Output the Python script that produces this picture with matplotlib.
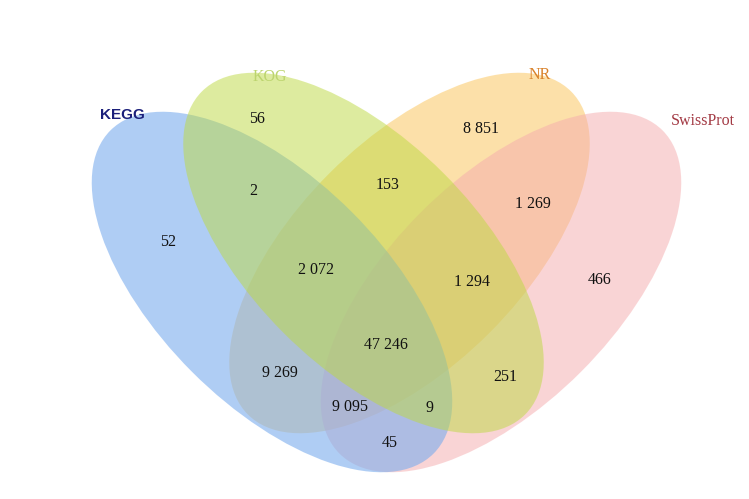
import matplotlib
matplotlib.use("Agg")
import matplotlib.pyplot as plt
from matplotlib.patches import Ellipse

# ---- data ----
set_names = ["KEGG", "KOG", "NR", "SwissProt"]
region_keys = ["KOG", "NR", "KEGG&KOG", "KOG&NR", "NR&SwissProt", "KEGG",
               "KEGG&KOG&NR", "KOG&NR&SwissProt", "SwissProt", "ALL",
               "KEGG&NR", "KOG&SwissProt", "KEGG&NR&SwissProt",
               "KEGG&KOG&SwissProt", "KEGG&SwissProt"]
region_counts = ["56", "8 851", "2", "153", "1 269", "52",
                 "2 072", "1 294", "466", "47 246",
                 "9 269", "251", "9 095", "9", "45"]

# ---- layout / style ----
W, H = 749, 499
fig = plt.figure(figsize=(W / 100, H / 100), dpi=100)
ax = fig.add_axes([0, 0, 1, 1])
ax.set_xlim(0, W)
ax.set_ylim(H, 0)
ax.axis("off")

# per set: colour, alpha, centre, angle ; drawn in z-order NR, SwissProt, KEGG, KOG
set_colors = {"KEGG": "#7badee", "KOG": "#bdd941", "NR": "#fbc355", "SwissProt": "#f5abad"}
set_alpha = {"KEGG": 0.6, "KOG": 0.5, "NR": 0.5, "SwissProt": 0.5}
centers = {"KEGG": (272, 292), "KOG": (363.5, 253), "NR": (409.5, 253), "SwissProt": (501, 292)}
angles = {"KEGG": 45, "KOG": 45, "NR": -45, "SwissProt": -45}
draw_order = ["NR", "SwissProt", "KEGG", "KOG"]
a_axis, b_axis = 457, 226

for k in draw_order:
    ax.add_patch(Ellipse(centers[k], a_axis, b_axis, angle=angles[k],
                         facecolor=set_colors[k], edgecolor="none",
                         alpha=set_alpha[k]))

label_pos = [(257, 119), (481, 129), (253, 191), (388, 185), (533, 204),
             (168, 242), (316, 270), (472, 282), (600, 280), (386, 345),
             (280, 373), (505, 377), (350, 407), (430, 408), (390, 443)]
for (x, y), txt in zip(label_pos, region_counts):
    ax.text(x, y, txt, ha="center", va="center", fontsize=11.5,
            family="Liberation Serif", color="#111111")

name_pos = [(122, 115), (270, 77), (540, 75), (703, 121)]
name_colors = ["#1b1f7a", "#bcd46e", "#d9822b", "#a33a44"]
name_family = ["Liberation Sans", "Liberation Serif", "Liberation Serif", "Liberation Serif"]
name_weight = ["bold", "normal", "normal", "normal"]
for (x, y), nm, c, fam, w in zip(name_pos, set_names, name_colors, name_family, name_weight):
    ax.text(x, y, nm, ha="center", va="center", fontsize=11 if w == "bold" else 11.5,
            family=fam, weight=w, color=c)

fig.savefig("out.png", dpi=100)
